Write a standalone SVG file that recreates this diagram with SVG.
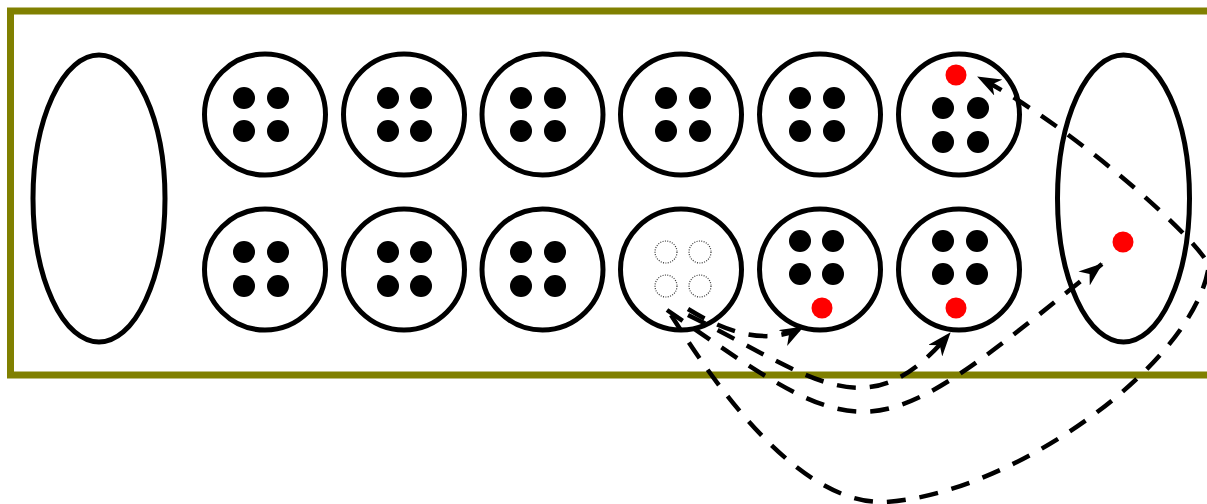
<svg xmlns="http://www.w3.org/2000/svg" width="1207" height="504" viewBox="0 0 1207 504">
<style>
.board{fill:#fff;stroke:#808000;stroke-width:7}
.store,.pit{fill:#fff;stroke:#000;stroke-width:5}
.seed{fill:#000}
.red{fill:#f00}
.ghost{fill:none;stroke:#333;stroke-width:1.2;stroke-dasharray:1 1.4}
.arrow{fill:none;stroke:#000;stroke-width:4.5;stroke-dasharray:19 14;marker-end:url(#ah)}
</style>
<defs>
<marker id="ah" markerUnits="userSpaceOnUse" markerWidth="24" markerHeight="18" refX="23" refY="9" orient="auto" viewBox="0 0 24 18">
<path d="M0,0 L24,9 L0,18 L7,9 z" fill="#000"/>
</marker>
</defs>
<rect class="board" x="10.5" y="11" width="1220" height="364"/>
<g id="store-left"><ellipse class="store" cx="99" cy="198.5" rx="66" ry="143.5"/></g>
<g id="store-right"><ellipse class="store" cx="1123.5" cy="198.5" rx="66" ry="143.5"/><circle class="red" cx="1123" cy="242" r="10.5"/></g>
<g id="pit-t1"><circle class="pit" cx="265" cy="114.5" r="60.5"/><circle class="seed" cx="244" cy="98" r="11"/><circle class="seed" cx="278" cy="98" r="11"/><circle class="seed" cx="244" cy="131" r="11"/><circle class="seed" cx="278" cy="131" r="11"/></g>
<g id="pit-t2"><circle class="pit" cx="404" cy="114.5" r="60.5"/><circle class="seed" cx="388" cy="98" r="11"/><circle class="seed" cx="421" cy="98" r="11"/><circle class="seed" cx="388" cy="131" r="11"/><circle class="seed" cx="421" cy="131" r="11"/></g>
<g id="pit-t3"><circle class="pit" cx="542.5" cy="114.5" r="60.5"/><circle class="seed" cx="521" cy="98" r="11"/><circle class="seed" cx="555" cy="98" r="11"/><circle class="seed" cx="521" cy="131" r="11"/><circle class="seed" cx="555" cy="131" r="11"/></g>
<g id="pit-t4"><circle class="pit" cx="681" cy="114.5" r="60.5"/><circle class="seed" cx="666" cy="98" r="11"/><circle class="seed" cx="700" cy="98" r="11"/><circle class="seed" cx="666" cy="131" r="11"/><circle class="seed" cx="700" cy="131" r="11"/></g>
<g id="pit-t5"><circle class="pit" cx="820" cy="114.5" r="60.5"/><circle class="seed" cx="800" cy="98" r="11"/><circle class="seed" cx="834" cy="98" r="11"/><circle class="seed" cx="800" cy="131" r="11"/><circle class="seed" cx="834" cy="131" r="11"/></g>
<g id="pit-t6"><circle class="pit" cx="959" cy="114.5" r="60.5"/><circle class="red" cx="956" cy="75" r="10.5"/><circle class="seed" cx="943" cy="108" r="11"/><circle class="seed" cx="978" cy="108" r="11"/><circle class="seed" cx="943" cy="142" r="11"/><circle class="seed" cx="978" cy="142" r="11"/></g>
<g id="pit-b1"><circle class="pit" cx="265" cy="269.5" r="60.5"/><circle class="seed" cx="244" cy="252" r="11"/><circle class="seed" cx="278" cy="252" r="11"/><circle class="seed" cx="244" cy="286" r="11"/><circle class="seed" cx="278" cy="286" r="11"/></g>
<g id="pit-b2"><circle class="pit" cx="404" cy="269.5" r="60.5"/><circle class="seed" cx="388" cy="252" r="11"/><circle class="seed" cx="421" cy="252" r="11"/><circle class="seed" cx="388" cy="286" r="11"/><circle class="seed" cx="421" cy="286" r="11"/></g>
<g id="pit-b3"><circle class="pit" cx="542.5" cy="269.5" r="60.5"/><circle class="seed" cx="521" cy="252" r="11"/><circle class="seed" cx="555" cy="252" r="11"/><circle class="seed" cx="521" cy="286" r="11"/><circle class="seed" cx="555" cy="286" r="11"/></g>
<g id="pit-b4"><circle class="pit" cx="681" cy="269.5" r="60.5"/><circle class="ghost" cx="666" cy="252" r="11"/><circle class="ghost" cx="700" cy="252" r="11"/><circle class="ghost" cx="666" cy="286" r="11"/><circle class="ghost" cx="700" cy="286" r="11"/></g>
<g id="pit-b5"><circle class="pit" cx="820" cy="269.5" r="60.5"/><circle class="seed" cx="800" cy="241" r="11"/><circle class="seed" cx="833" cy="241" r="11"/><circle class="seed" cx="800" cy="274" r="11"/><circle class="seed" cx="833" cy="274" r="11"/><circle class="red" cx="822" cy="308" r="10.5"/></g>
<g id="pit-b6"><circle class="pit" cx="959" cy="269.5" r="60.5"/><circle class="seed" cx="943" cy="241" r="11"/><circle class="seed" cx="977" cy="241" r="11"/><circle class="seed" cx="943" cy="274" r="11"/><circle class="seed" cx="977" cy="274" r="11"/><circle class="red" cx="956" cy="308" r="10.5"/></g>
<g id="connectors">
<path class="arrow" d="M 688 309 C 730 335, 770 345, 803 327"/>
<path class="arrow" d="M 688 315 C 814 377, 867 433, 950 333"/>
<path class="arrow" d="M 667 310 C 872 452, 868 453, 1102 264"/>
<path class="arrow" d="M 671 315 C 700 360, 790 505, 885 502 C 1010 495, 1195 365, 1209 265 C 1190 230, 1065 122, 978 77"/>
</g>
</svg>
